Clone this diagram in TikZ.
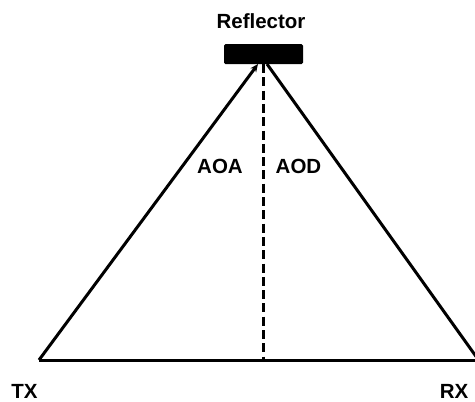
\documentclass[tikz,border=0pt]{standalone}
\usepackage{fontspec}
\setmainfont{Liberation Sans}
\usetikzlibrary{arrows.meta}
\begin{document}
\begin{tikzpicture}[x=1pt,y=-1pt,
  lbl/.style={font=\fontsize{20.5}{23}\selectfont\bfseries, inner sep=0pt},
  ray/.style={line width=3pt},
  refl/.style={fill=black, rounded corners=1.5pt, minimum width=79pt, minimum height=20pt, inner sep=0pt}]
\useasboundingbox (0,0) rectangle (475,402);
\clip (0,0) rectangle (475,402);
\node[refl] (r) at (263.5,54) {};
\node[lbl] (rl) at (261,21) {Reflector};
\coordinate (tx) at (39,360);
\coordinate (rx) at (478,360);
\coordinate (rb) at (263,64);
\coordinate (foot) at (263,359);
\coordinate (ahead) at (258,64);
\coordinate (rstart) at (267,64);
\coordinate (rend) at (480,362);
\draw[ray,-{Stealth[length=8pt,width=7pt]}] (tx) -- (ahead);
\draw[ray] (rstart) -- (rend);
\draw[ray] (tx) -- (rx);
\draw[line width=3pt, dash pattern=on 9pt off 4.3pt] (rb) -- (foot);
\node[lbl] (aoa) at (220,166) {AOA};
\node[lbl] (aod) at (298.5,166) {AOD};
\node[lbl] (txl) at (24.5,391) {TX};
\node[lbl] (rxl) at (454,391) {RX};
\end{tikzpicture}
\end{document}
